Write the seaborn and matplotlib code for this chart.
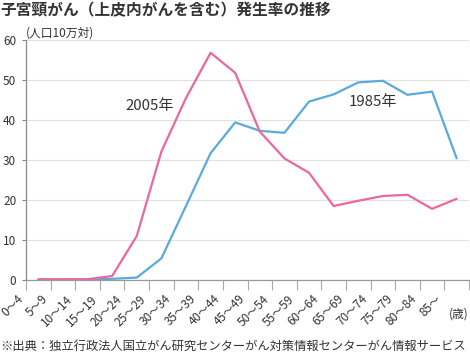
import numpy as np
import pandas as pd
import matplotlib.pyplot as plt
import seaborn as sns

age_groups = ["0〜4", "5〜9", "10〜14", "15〜19", "20〜24", "25〜29", "30〜34",
              "35〜39", "40〜44", "45〜49", "50〜54", "55〜59", "60〜64", "65〜69",
              "70〜74", "75〜79", "80〜84", "85〜"]
rate_1985 = [0.0, 0.0, 0.1, 0.3, 0.6, 5.4, 18.5, 31.7, 39.4, 37.3, 36.8, 44.6,
             46.4, 49.4, 49.8, 46.3, 47.1, 30.4]
rate_2005 = [0.2, 0.2, 0.2, 1.0, 11.0, 32.1, 45.5, 56.8, 51.8, 37.1, 30.4, 26.8,
             18.5, 19.8, 21.0, 21.3, 17.8, 20.3]
years = ["1985年", "2005年"]
colors = ["#5aaade", "#ea679f"]

sns.set_theme(style="white")
plt.rcParams["font.family"] = ["Noto Sans CJK JP", "DejaVu Sans"]
text_color = "#333333"

idx = np.arange(len(age_groups))
df = pd.DataFrame({
    "pos": np.concatenate([idx, idx]),
    "rate": rate_1985 + rate_2005,
    "year": [years[0]] * len(idx) + [years[1]] * len(idx),
})

fig = plt.figure(figsize=(4.7, 3.54), dpi=100)
ax = fig.add_axes([26 / 470, (354 - 280) / 354, (469 - 26) / 470, 240 / 354])

sns.lineplot(data=df, x="pos", y="rate", hue="year", hue_order=years,
             palette=colors, linewidth=1.6, legend=False, ax=ax)

ax.set_xlim(-0.5, len(age_groups) - 0.5)
ax.set_ylim(0, 60)
ax.set_yticks(range(0, 61, 10))
ax.yaxis.grid(True, color="#e2e2e2", linewidth=0.8)
ax.set_axisbelow(True)

# labels sit on the left boundary tick of each age band
ax.set_xticks(idx - 0.5)
ax.set_xticklabels(age_groups, rotation=45, ha="right", fontsize=8.5, color=text_color)
ax.set_xticks([len(age_groups) - 0.5], minor=True)
ax.tick_params(axis="x", which="both", direction="out", length=7, width=0.8,
               color="#aaaaaa", pad=2, bottom=True)
ax.tick_params(axis="y", direction="out", length=3, width=0.8, color="#888888",
               labelsize=8.5, labelcolor=text_color, pad=4, left=True)
ax.set_xlabel("")
ax.set_ylabel("")

for side in ["top", "right"]:
    ax.spines[side].set_visible(False)
ax.spines["left"].set_color("#888888")
ax.spines["left"].set_linewidth(0.9)
ax.spines["bottom"].set_color("#999999")
ax.spines["bottom"].set_linewidth(0.9)

ax.text(4.54, 43.6, "2005年", fontsize=10.8, color=text_color, ha="center", va="center")
ax.text(13.6, 44.6, "1985年", fontsize=10.8, color=text_color, ha="center", va="center")

fig.text(0.0, 1 - 10 / 354, "子宮頸がん（上皮内がんを含む）発生率の推移",
         fontsize=11.3, fontweight="bold", color=text_color, ha="left", va="center")
fig.text(26 / 470, 1 - 33 / 354, "(人口10万対)", fontsize=8.5, color=text_color,
         ha="left", va="center")
fig.text(469 / 470, 1 - 314 / 354, "(歳)", fontsize=8.5, color=text_color,
         ha="right", va="center")
fig.text(0.0, 1 - 346 / 354,
         "※出典：独立行政法人国立がん研究センターがん対策情報センターがん情報サービス",
         fontsize=8.85, color=text_color, ha="left", va="center")

fig.savefig("out.png", dpi=100)
